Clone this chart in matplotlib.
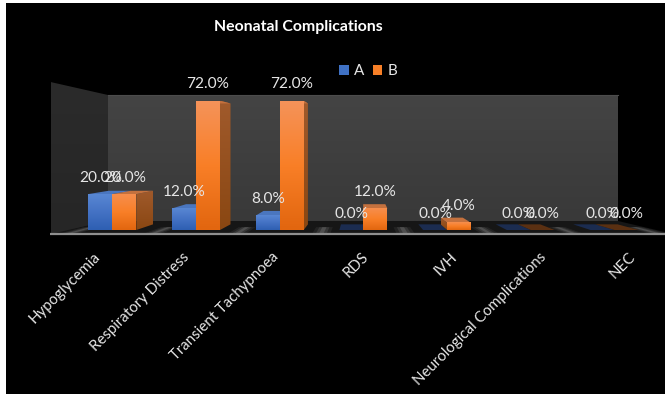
import numpy as np
import matplotlib
matplotlib.use('Agg')
import matplotlib.pyplot as plt
from matplotlib.patches import Polygon, Patch, Rectangle
from matplotlib.colors import LinearSegmentedColormap

# data
categories = ['Hypoglycemia', 'Respiratory Distress', 'Transient Tachypnoea', 'RDS', 'IVH',
              'Neurological Complications', 'NEC']
series_a = [20.0, 12.0, 8.0, 0.0, 0.0, 0.0, 0.0]
series_b = [20.0, 72.0, 72.0, 12.0, 4.0, 0.0, 0.0]
series_names = ['A', 'B']

plt.rcParams['font.family'] = ['Lato', 'DejaVu Sans']

W, H = 665, 394
# front plane of the 3D box, vanishing point of the depth edges
VP_X, VP_Y = 360, 143
DEPTH_X, DEPTH_Y = 0.075, 0.065
LABEL_COLOR = '#e6e6e6'

fig = plt.figure(figsize=(W / 100, H / 100), dpi=100, facecolor='black')

# backdrop in pixel units
bg = fig.add_axes([0, 0, 1, 1], zorder=0)
bg.set_xlim(0, W)
bg.set_ylim(H, 0)
bg.axis('off')

# bars in data units: one unit per category, y in percent
ax = fig.add_axes([70.45 / W, (H - 230) / H, (656.35 - 70.45) / W, 129.3 / H], zorder=1)
ax.patch.set_alpha(0)
ax.axis('off')


def gradient_fill(axes, pts, top, bottom, zorder, horizontal=False):
    pts = np.array(pts)
    cmap = LinearSegmentedColormap.from_list('g', [top, bottom])
    ramp = np.linspace(0, 1, 64)
    ramp = ramp[None, :] if horizontal else ramp[:, None]
    xmin, xmax = pts[:, 0].min(), pts[:, 0].max()
    ymin, ymax = pts[:, 1].min(), pts[:, 1].max()
    if xmin == xmax or ymin == ymax:
        return
    inverted = axes.get_ylim()[0] > axes.get_ylim()[1]
    extent = (xmin, xmax, ymax, ymin) if inverted else (xmin, xmax, ymin, ymax)
    im = axes.imshow(ramp, cmap=cmap, extent=extent, aspect='auto', zorder=zorder,
                     origin='upper', interpolation='bilinear')
    clip = Polygon(pts, closed=True, transform=axes.transData, facecolor='none', edgecolor='none')
    axes.add_patch(clip)
    im.set_clip_path(clip)


def floor_pt(x_front, y_front=230):
    return (x_front + DEPTH_X * (VP_X - x_front), y_front + DEPTH_Y * (VP_Y - y_front))


# outer strips of the slide
bg.add_patch(Rectangle((0, 0), 6, H, color='white', lw=0, zorder=5))
bg.add_patch(Rectangle((0, 0), W, 3, color='white', lw=0, zorder=5))

# walls
gradient_fill(bg, [(108, 95), (618, 95), (618, 221), (108, 221)], '#444444', '#393939', 1)
gradient_fill(bg, [(50.5, 82), (108, 95), (108, 221), (50.5, 235)], '#2b2b2b', '#262626', 1)
bg.plot([108, 618], [95, 95], color='#4c4c4c', lw=0.8, zorder=1.5)

# floor with the lighter streaks between categories
bg.add_patch(Polygon([(50.5, 234), (108, 221), (618, 221), (665, 232), (665, 234)],
                     closed=True, facecolor='#161616', edgecolor='none', zorder=2))
for i in range(8):
    fx = 70.45 + 83.7 * i
    for pad, alpha in ((1.0, 0.06), (0.6, 0.09), (0.25, 0.12)):
        l, r = fx - 9 * pad, fx + 9 * pad
        bg.add_patch(Polygon([(l, 233), (r, 233), floor_pt(r, 233), floor_pt(l, 233)],
                             closed=True, facecolor='white', alpha=alpha, edgecolor='none',
                             zorder=2.1, clip_on=True))
bg.plot([50, W], [234.2, 234.2], color='#8f8f8f', lw=1.6, zorder=3, solid_capstyle='butt')

ax.set_xlim(-0.5, 6.5)
ax.set_ylim(0, 72)


def recede(x, y):
    # push a front plane point back along the depth edges
    px, py = ax.transData.transform((x, y))
    py = H - py
    back = (px + DEPTH_X * (VP_X - px), H - (py + DEPTH_Y * (VP_Y - py)))
    return tuple(ax.transData.inverted().transform(back))


BAR_W = 24 / 83.7
STYLES = {
    'A': dict(front=('#5f8ed8', '#2e5fb2'), side=('#3a5f9c', '#2a4a80'), top='#4a76bf',
              flat='#1b2c50', legend='#3f71c4'),
    'B': dict(front=('#f5935a', '#e2660f'), side=('#a05a2c', '#8a4712'), top='#c4713e',
              flat='#5a3012', legend='#f77f27'),
}


def draw_bar(x0, value, style, zorder):
    x1 = x0 + BAR_W
    st = STYLES[style]
    back_r0, back_r1 = recede(x1, 0), recede(x1, value)
    back_l0, back_l1 = recede(x0, 0), recede(x0, value)
    if value == 0:
        ax.add_patch(Polygon([(x0, 0), (x1, 0), back_r0, back_l0], closed=True,
                             facecolor=st['flat'], edgecolor='none', zorder=zorder))
        return
    if back_r1[0] > x1:
        gradient_fill(ax, [(x1, 0), (x1, value), back_r1, back_r0], *st['side'], zorder)
    if back_l1[0] < x0:
        gradient_fill(ax, [(x0, 0), (x0, value), back_l1, back_l0], *st['side'], zorder)
    ax.add_patch(Polygon([(x0, value), (x1, value), back_r1, back_l1], closed=True,
                         facecolor=st['top'], edgecolor='none', zorder=zorder + 0.1))
    shade = value / 72
    mid = np.array(matplotlib.colors.to_rgb('#f97f27' if style == 'B' else '#4472c4'))
    top = np.array(matplotlib.colors.to_rgb(st['front'][0]))
    bot = np.array(matplotlib.colors.to_rgb(st['front'][1]))
    top_col = top if shade > 0.5 else top * 0.75 + mid * 0.25
    ax.imshow(np.linspace(0, 1, 64)[:, None],
              cmap=LinearSegmentedColormap.from_list('f', [top_col, mid, bot]),
              extent=(x0, x1, 0, value), aspect='auto', zorder=zorder + 0.2, origin='upper')


for i in range(len(categories)):
    xa, xb = i - BAR_W, i
    draw_bar(xa, series_a[i], 'A', 3 + i)
    draw_bar(xb, series_b[i], 'B', 3.5 + i)
    for x0, val in ((xa, series_a[i]), (xb, series_b[i])):
        ax.annotate(f'{val:.1f}%', (x0 + BAR_W / 2, val), xytext=(0, 16.5 * 0.72),
                    textcoords='offset points', ha='center', va='center',
                    color=LABEL_COLOR, fontsize=11.1, zorder=20, annotation_clip=False)

ax.set_xlim(-0.5, 6.5)
ax.set_ylim(0, 72)

# slanted category labels
for i, name in enumerate(categories):
    bg.text(93 + 89.3 * i, 250, name, rotation=45, rotation_mode='anchor', ha='right', va='top',
            color=LABEL_COLOR, fontsize=10.8, zorder=6)

fig.text(298.5 / W, 1 - 27 / H, 'Neonatal Complications', color='white', fontsize=11.4,
         fontweight='bold', ha='center', va='center')

handles = [Patch(facecolor=STYLES[n]['legend'], edgecolor='none') for n in series_names]
fig.legend(handles, series_names, loc='center', bbox_to_anchor=(368.5 / W, 1 - 71 / H), ncol=2,
           frameon=False, labelcolor=LABEL_COLOR, fontsize=11, handlelength=0.62,
           handleheight=0.62, handletextpad=0.35, columnspacing=0.55, borderpad=0)

fig.savefig('out.png', dpi=100, facecolor='black')
